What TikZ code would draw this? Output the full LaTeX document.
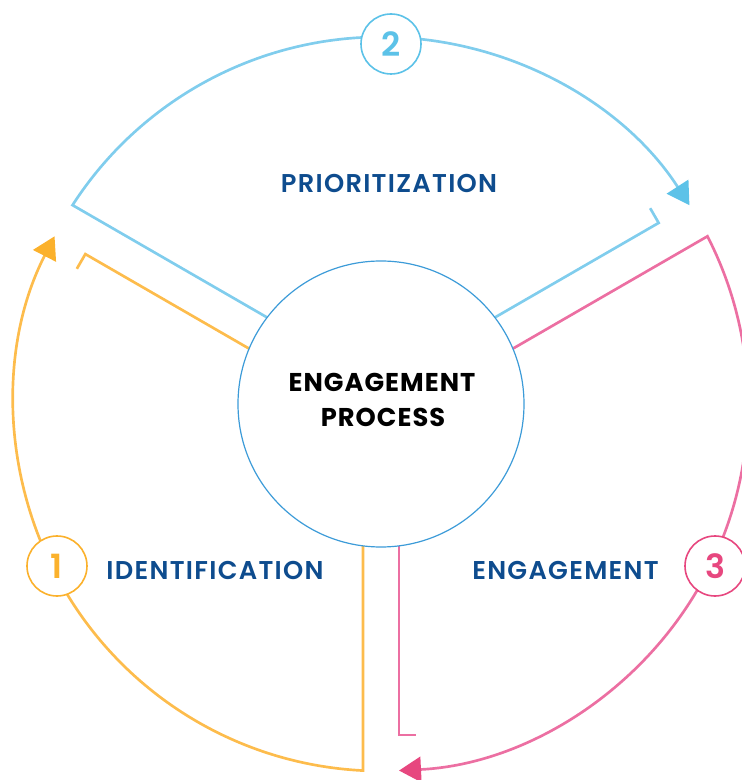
\documentclass[tikz,border=0pt]{standalone}
\usepackage{fontspec}
\setmainfont{Poppins}[BoldFont={Poppins SemiBold}]
\newfontfamily\heavyfont{Poppins}[BoldFont={Poppins Bold}]
\usetikzlibrary{calc,arrows.meta}
\definecolor{bluel}{HTML}{80CDED}
\definecolor{bluea}{HTML}{5CC2E8}
\definecolor{yell}{HTML}{FDBC4C}
\definecolor{yela}{HTML}{FBB12C}
\definecolor{pinkl}{HTML}{EC6FA2}
\definecolor{pinka}{HTML}{E7477F}
\definecolor{innerc}{HTML}{3C9BD8}
\definecolor{txtblue}{HTML}{0E4C8E}
\tikzset{
  sector/.style={line width=2pt, line join=miter, line cap=butt},
  tipstyle/.style={-{Triangle[length=16.5pt,width=19pt,color=#1]}},
  badge/.style={circle, draw=#1, text=#1, fill=white, line width=1.2pt,
    minimum size=45pt, inner sep=0pt, font=\fontsize{25}{30}\selectfont\bfseries},
  label/.style={inner sep=0pt, anchor=base, text=txtblue,
    font=\fontsize{19.3}{23}\selectfont\bfseries\addfontfeatures{LetterSpace=5}},
  center/.style={inner sep=0pt, anchor=base, text=black,
    font=\heavyfont\fontsize{19.3}{23}\selectfont\bfseries\addfontfeatures{LetterSpace=4}}
}
\begin{document}
\begin{tikzpicture}[x=0.75pt,y=0.75pt]
\useasboundingbox (-381,-376) rectangle (360,404);
% named points
\coordinate (O) at (0,0);
% gap at 270
\coordinate (y1) at ($(O)+(270:141.86)+(180:18)$);
\coordinate (y2) at ($(O)+(270:366.56)+(180:18)$);
\coordinate (p4) at ($(O)+(270:141.86)+(0:18)$);
\coordinate (p5) at ($(O)+(270:331)+(0:18)$);
\coordinate (p6) at ($(O)+(270:331)+(0:35)$);
% gap at 150
\coordinate (b1) at ($(O)+(150:141.86)+(60:18)$);
\coordinate (b2) at ($(O)+(150:366.56)+(60:18)$);
\coordinate (y4) at ($(O)+(150:141.86)+(240:18)$);
\coordinate (y5) at ($(O)+(150:331)+(240:18)$);
\coordinate (y6) at ($(O)+(150:331)+(240:35)$);
% gap at 30
\coordinate (p1) at ($(O)+(30:141.86)+(-60:18)$);
\coordinate (p2) at ($(O)+(30:366.56)+(-60:18)$);
\coordinate (b4) at ($(O)+(30:141.86)+(120:18)$);
\coordinate (b5) at ($(O)+(30:331)+(120:18)$);
\coordinate (b6) at ($(O)+(30:331)+(120:35)$);

% yellow sector
\draw[sector, yell, tipstyle=yela] (y1) -- (y2) arc[start angle=-92.81, end angle=-207.19, radius=367];
\draw[sector, yell] (y4) -- (y5) -- (y6);
% blue sector
\draw[sector, bluel, tipstyle=bluea] (b1) -- (b2) arc[start angle=147.19, end angle=32.81, radius=367];
\draw[sector, bluel] (b4) -- (b5) -- (b6);
% pink sector
\draw[sector, pinkl, tipstyle=pinka] (p1) -- (p2) arc[start angle=27.19, end angle=-87.19, radius=367];
\draw[sector, pinkl] (p4) -- (p5) -- (p6);

% inner circle
\draw[innerc, line width=0.9pt] (O) circle[radius=143];

% badges
\node[badge=yela] (n1) at (-324,-162) {1};
\node[badge=bluea] (n2) at (10,360) {2};
\node[badge=pinka] (n3) at (334,-162) {3};

% labels
\node[label] (lprio) at (8,211) {PRIORITIZATION};
\node[label] (lident) at (-166,-175) {IDENTIFICATION};
\node[label] (leng) at (184.5,-175) {ENGAGEMENT};
\node[center] (c1) at (1,12) {ENGAGEMENT};
\node[center] (c2) at (2,-23) {PROCESS};
\end{tikzpicture}
\end{document}
